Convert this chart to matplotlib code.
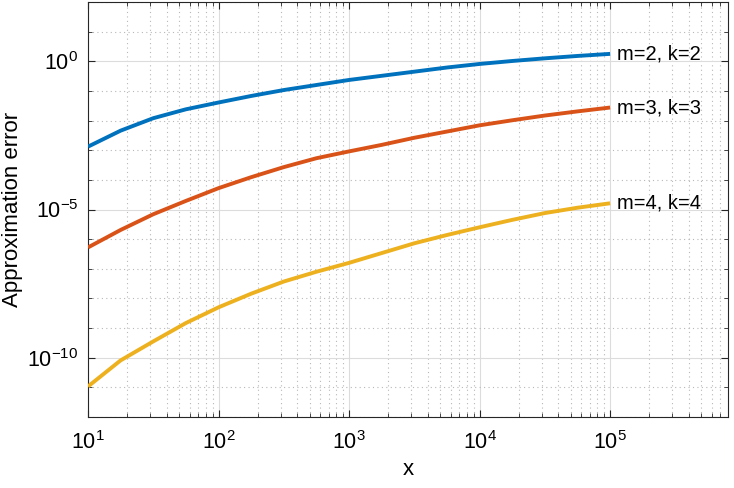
import numpy as np
import matplotlib
matplotlib.use("Agg")
import matplotlib.pyplot as plt
from matplotlib.ticker import FixedLocator, NullFormatter

plt.rcParams['font.family'] = ['Liberation Sans', 'DejaVu Sans']
plt.rcParams['mathtext.fontset'] = 'custom'
plt.rcParams['mathtext.rm'] = 'Liberation Sans'
plt.rcParams['mathtext.it'] = 'Liberation Sans'
plt.rcParams['mathtext.default'] = 'regular'

# data (log10 of x and of error)
log_x = [1.0, 1.25, 1.5, 1.75, 2.0, 2.25, 2.5, 2.75, 3.0, 3.25, 3.5, 3.75, 4.0, 4.25, 4.5, 4.75, 5.0]
log_err_m2 = [-2.88, -2.34, -1.92, -1.62, -1.39, -1.17, -0.97, -0.80, -0.63, -0.49, -0.35, -0.21, -0.09, 0.01, 0.10, 0.18, 0.25]
log_err_m3 = [-6.28, -5.69, -5.16, -4.71, -4.28, -3.91, -3.57, -3.27, -3.04, -2.82, -2.58, -2.37, -2.16, -1.99, -1.83, -1.69, -1.56]
log_err_m4 = [-10.97, -10.09, -9.45, -8.83, -8.30, -7.84, -7.43, -7.10, -6.80, -6.47, -6.14, -5.86, -5.60, -5.35, -5.12, -4.94, -4.79]
labels = ["m=2, k=2", "m=3, k=3", "m=4, k=4"]
colors = ["#0072BD", "#D95319", "#EDB120"]

xlim = (10, 8e5)
ylim = (1e-12, 1e2)
xticks = [1e1, 1e2, 1e3, 1e4, 1e5]
xticklabels = ["$10^{1}$", "$10^{2}$", "$10^{3}$", "$10^{4}$", "$10^{5}$"]
yticks = [1e-10, 1e-5, 1e0]
yticklabels = ["$10^{-10}$", "$10^{-5}$", "$10^{0}$"]

fig = plt.figure(figsize=(7.34, 4.88), dpi=100)
ax = fig.add_axes([88/734, 1-417/488, (728-88)/734, (417-2)/488])

x = 10.0 ** np.array(log_x)
for series, lab, c in zip([log_err_m2, log_err_m3, log_err_m4], labels, colors):
    y = 10.0 ** np.array(series)
    ax.plot(x, y, color=c, lw=2.8, solid_capstyle='butt', zorder=3)
    ax.text(x[-1] * 1.12, y[-1], lab, fontsize=14.5, va='center', ha='left', color='black')

ax.set_xscale('log')
ax.set_yscale('log')
ax.set_xlim(*xlim)
ax.set_ylim(*ylim)

ax.xaxis.set_major_locator(FixedLocator(xticks))
ax.set_xticklabels(xticklabels)
xminor = [m * 10.0 ** e for e in range(1, 6) for m in range(2, 10) if m * 10.0 ** e < xlim[1]]
ax.xaxis.set_minor_locator(FixedLocator(xminor))
ax.xaxis.set_minor_formatter(NullFormatter())

ax.yaxis.set_major_locator(FixedLocator(yticks))
ax.set_yticklabels(yticklabels)
yminor = [10.0 ** e for e in range(-12, 3) if 10.0 ** e not in yticks]
ax.yaxis.set_minor_locator(FixedLocator(yminor))
ax.yaxis.set_minor_formatter(NullFormatter())

ax.grid(True, which='major', color='#dcdcdc', lw=0.8, ls='-', zorder=0)
ax.grid(True, which='minor', color='#b8b8b8', lw=0.8, ls=(0, (1, 3)), zorder=0)
ax.set_axisbelow(True)

for s in ax.spines.values():
    s.set_color('#262626')
    s.set_linewidth(0.8)
ax.tick_params(which='both', direction='in', top=True, right=True, colors='#262626', labelcolor='black', labelsize=15.5)
ax.tick_params(which='major', length=5, width=0.8)
ax.tick_params(which='minor', length=3, width=0.6)
ax.tick_params(axis='x', pad=10)
ax.tick_params(axis='y', pad=7)

ax.set_xlabel('x', fontsize=16, labelpad=4)
ax.set_ylabel('Approximation error', fontsize=16)
ax.yaxis.set_label_coords(-0.102, 0.5)

fig.savefig('out.png', dpi=100)
